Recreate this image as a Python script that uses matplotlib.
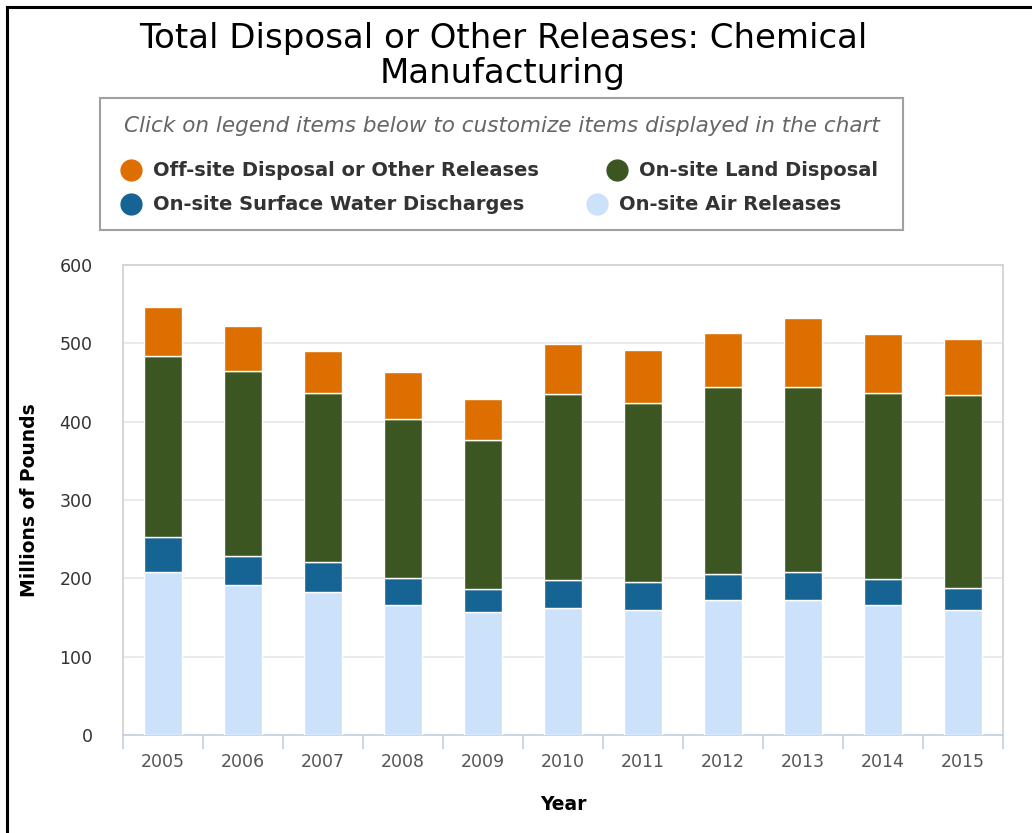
import matplotlib
matplotlib.use('Agg')
import numpy as np
from matplotlib import pyplot as plt
from matplotlib.lines import Line2D

# Releases by year, millions of pounds
years = ['2005', '2006', '2007', '2008', '2009', '2010', '2011', '2012', '2013', '2014', '2015']
air_releases = [208, 191, 183, 166, 157, 162, 159, 172, 172, 166, 159]
water_discharges = [45, 38, 38, 35, 29, 36, 36, 33, 36, 33, 29]
land_disposal = [231, 236, 216, 203, 191, 237, 229, 239, 236, 237, 246]
offsite_disposal = [62, 57, 53, 59, 52, 64, 67, 69, 88, 76, 71]

series_names = ['Off-site Disposal or Other Releases', 'On-site Land Disposal',
                'On-site Surface Water Discharges', 'On-site Air Releases']
series_colors = ['#dd6e00', '#3b5621', '#156494', '#cce2fa']

plt.rcParams['font.family'] = ['DejaVu Sans']

W, H = 1032, 833
fig = plt.figure(figsize=(W / 100, H / 100), dpi=100)


def fx(px):
    return px / W


def fy(py):
    return 1 - py / H


ax = fig.add_axes([fx(123), fy(735), fx(1003) - fx(123), fy(265) - fy(735)])

x = np.arange(len(years))
bottom = np.zeros(len(years))
# stacked from the bottom up: air, water, land, off-site
for values, color in [(air_releases, series_colors[3]), (water_discharges, series_colors[2]),
                      (land_disposal, series_colors[1]), (offsite_disposal, series_colors[0])]:
    ax.bar(x, values, bottom=bottom, width=0.475, color=color, edgecolor='white', linewidth=1, zorder=3)
    bottom += np.array(values)

ax.set_xlim(-0.5, len(years) - 0.5)
ax.set_ylim(0, 600)
ax.set_yticks(range(0, 601, 100))
ax.yaxis.grid(True, color='#e6e6e6', linewidth=1.2, zorder=0)
ax.set_axisbelow(True)

for side in ['top', 'left', 'right']:
    ax.spines[side].set_color('#d0d0d0')
    ax.spines[side].set_linewidth(1.2)
ax.spines['bottom'].set_color('#c0d0e0')
ax.spines['bottom'].set_linewidth(1.2)

ax.set_xticks(x)
ax.set_xticklabels(years)
ax.set_xticks(np.arange(-0.5, len(years)), minor=True)
ax.tick_params(axis='x', which='major', length=0, pad=13, labelsize=12.5, labelcolor='#555555')
ax.tick_params(axis='x', which='minor', length=10, color='#c0d0e0', width=1.2)
ax.tick_params(axis='y', length=0, pad=22, labelsize=12.5, labelcolor='#333333')

ax.set_ylabel('Millions of Pounds', fontsize=13.5, fontweight='bold')
ax.yaxis.set_label_coords((39 - 123) / 880, 0.5)
ax.set_xlabel('Year', fontsize=13.5, fontweight='bold')
ax.xaxis.set_label_coords(0.5, -(795 - 735) / 470)

fig.text(fx(503), fy(56), 'Total Disposal or Other Releases: Chemical\nManufacturing',
         ha='center', va='center', fontsize=24.5, color='#000000', linespacing=1.05)

# legend box
fig.patches.append(plt.Rectangle((fx(100), fy(230)), fx(903) - fx(100), fy(98) - fy(230),
                                 transform=fig.transFigure, facecolor='white',
                                 edgecolor='#a0a0a0', linewidth=1.5))
fig.text(fx(502), fy(126), 'Click on legend items below to customize items displayed in the chart',
         ha='center', va='center', fontsize=15.5, style='italic', color='#666666')
legend_spots = [(131, 170), (617, 170), (131, 204), (597, 204)]
for (lx, ly), name, color in zip(legend_spots, series_names, series_colors):
    fig.add_artist(Line2D([fx(lx)], [fy(ly)], marker='o', markersize=15, color=color,
                          transform=fig.transFigure))
    fig.text(fx(lx + 22), fy(ly), name, ha='left', va='center', fontsize=14,
             fontweight='bold', color='#333333')

# frame lines along the top and left edges
fig.add_artist(Line2D([fx(7), fx(7)], [fy(7), 0], color='black', linewidth=2.2, transform=fig.transFigure))
fig.add_artist(Line2D([fx(7), 1], [fy(7), fy(7)], color='black', linewidth=2.2, transform=fig.transFigure))

fig.savefig('out.png', dpi=100)
